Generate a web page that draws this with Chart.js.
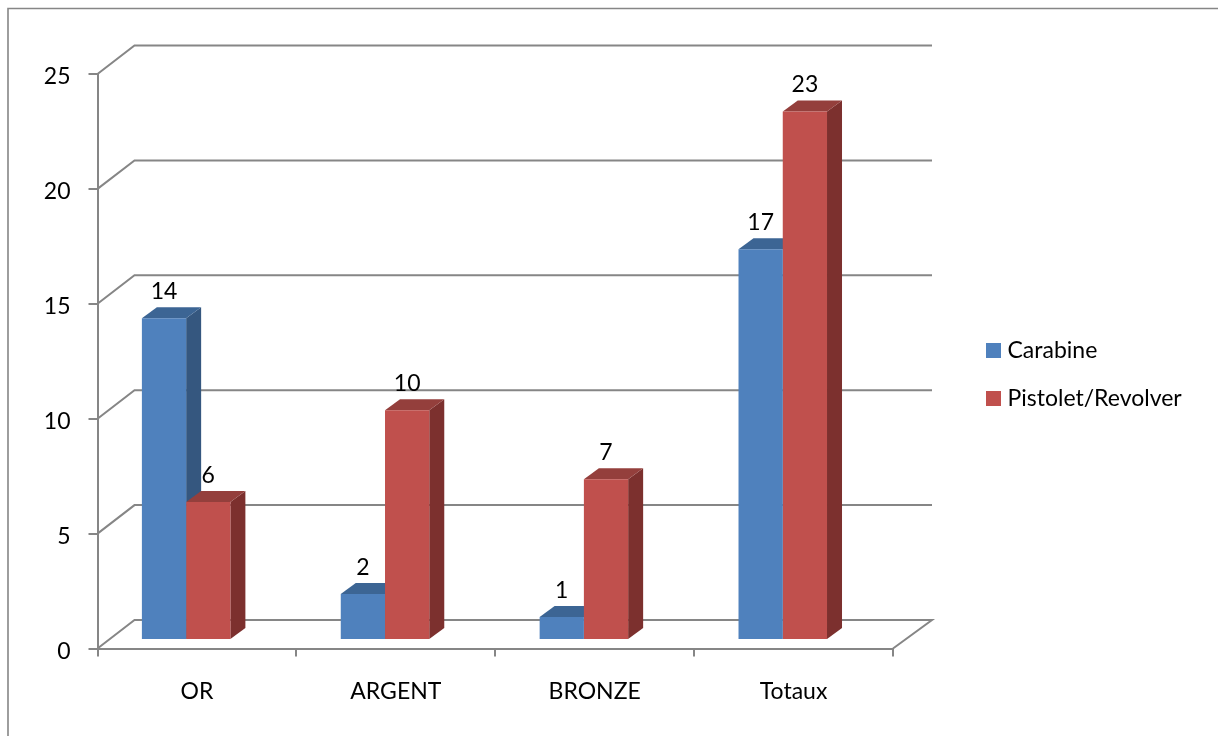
<!DOCTYPE html>
<html><head><meta charset="utf-8">
<style>html,body{margin:0;padding:0;background:#fff;overflow:hidden}#wrap{position:relative;width:1218px;height:736px}</style>
<script src="https://cdn.jsdelivr.net/npm/chart.js@4/dist/chart.umd.js"></script>
</head><body><div id="wrap"><canvas id="c" width="1218" height="736"></canvas></div>
<script>
const categories = ["OR", "ARGENT", "BRONZE", "Totaux"];
const carabine = [14, 2, 1, 17];
const pistolet = [6, 10, 7, 23];
const seriesNames = ["Carabine", "Pistolet/Revolver"];
const seriesColors = ["#4f81bd", "#c0504d"];
const topColors = ["#3c6594", "#943f3c"];
const sideColors = ["#35577f", "#7c302e"];
const axisColor = "#868686";
const FONT = {family: "Lato", size: 23};
const WALL = {dx: 37, dy: -28.5, right: 932};
const BAR = {dx: -10.8, dy: -8.5, depthX: 15, depthY: -11};

function poly(ctx, pts, color) {
  ctx.beginPath();
  pts.forEach((p, i) => i ? ctx.lineTo(p[0], p[1]) : ctx.moveTo(p[0], p[1]));
  ctx.closePath();
  ctx.fillStyle = color;
  ctx.fill();
}
const scene3d = {
  id: "scene3d",
  beforeLayout(chart) {
    const lg = chart.legend;
    if (lg && !lg._wrapped) {
      const fit = lg.fit;
      lg.fit = function () { fit.call(this); this.width = chart.width - 893; };
      lg._wrapped = true;
    }
  },
  afterLayout(chart) {
    const lg = chart.legend;
    const pad = lg.options.labels.padding;
    lg.left = 991 - pad; lg.right = chart.width;
    lg.top = 314; lg.bottom = chart.height;
  },
  beforeDraw(chart) {
    const ctx = chart.ctx;
    ctx.save();
    ctx.strokeStyle = axisColor; ctx.lineWidth = 1.6;
    ctx.beginPath();
    ctx.moveTo(8, chart.height); ctx.lineTo(8, 8.5); ctx.lineTo(chart.width, 8.5);
    ctx.stroke();
    ctx.restore();
  },
  beforeDatasetsDraw(chart) {
    const ctx = chart.ctx, y = chart.scales.y, a = chart.chartArea;
    ctx.save();
    ctx.strokeStyle = axisColor; ctx.lineWidth = 2; ctx.lineJoin = "miter";
    y.ticks.forEach(t => {
      const py = y.getPixelForValue(t.value);
      ctx.beginPath();
      ctx.moveTo(a.left, py);
      ctx.lineTo(a.left + WALL.dx, py + WALL.dy);
      ctx.lineTo(WALL.right, py + WALL.dy);
      if (t.value === 0) ctx.lineTo(a.right, py);
      ctx.stroke();
    });
    ctx.restore();
    ctx.save();
    ctx.translate(BAR.dx, BAR.dy);
    chart.data.datasets.forEach((d, i) => {
      chart.getDatasetMeta(i).data.forEach(el => {
        const l = el.x - el.width / 2, r = el.x + el.width / 2, t = el.y, b = el.base;
        const X = BAR.depthX, Y = BAR.depthY;
        poly(ctx, [[r, t], [r + X, t + Y], [r + X, b + Y], [r, b]], sideColors[i]);
        poly(ctx, [[l, t], [l + X, t + Y], [r + X, t + Y], [r, t]], topColors[i]);
      });
    });
  },
  afterDatasetsDraw(chart) {
    const ctx = chart.ctx;
    ctx.restore();
    ctx.save();
    ctx.fillStyle = "#000";
    ctx.font = FONT.size + "px " + FONT.family;
    ctx.textAlign = "center"; ctx.textBaseline = "middle";
    chart.data.datasets.forEach((d, i) => {
      chart.getDatasetMeta(i).data.forEach((el, j) => {
        ctx.fillText(String(d.data[j]), el.x + BAR.dx, el.y + BAR.dy - 26.5);
      });
    });
    ctx.restore();
  }
};
Chart.register(scene3d);
new Chart(document.getElementById("c"), {
  type: "bar",
  data: {
    labels: categories,
    datasets: [
      {label: seriesNames[0], data: carabine, backgroundColor: seriesColors[0], categoryPercentage: 0.445, barPercentage: 1},
      {label: seriesNames[1], data: pistolet, backgroundColor: seriesColors[1], categoryPercentage: 0.445, barPercentage: 1}
    ]
  },
  options: {
    responsive: false, animation: false, events: [],
    layout: {padding: {left: 0, top: 74, right: 0, bottom: 0}},
    plugins: {
      tooltip: {enabled: false}, title: {display: false},
      legend: {
        position: "right", align: "start",
        labels: {
          font: FONT, color: "#000", padding: 25, boxWidth: 5, boxHeight: 5,
          generateLabels(chart) {
            return Chart.defaults.plugins.legend.labels.generateLabels(chart).map(it => {
              it.strokeStyle = it.fillStyle; it.lineWidth = 10; return it;
            });
          }
        }
      }
    },
    scales: {
      x: {
        offset: true,
        afterFit(s) { s.height = 87.5; },
        grid: {display: true, offset: true, drawOnChartArea: false, drawTicks: true, tickLength: 8, color: axisColor, lineWidth: 2},
        border: {display: true, color: axisColor, width: 2},
        ticks: {font: FONT, color: "#000", padding: 21, maxRotation: 0}
      },
      y: {
        min: 0, max: 25,
        afterFit(s) { s.width = 97.5; },
        grid: {display: true, drawOnChartArea: false, drawTicks: true, tickLength: 9, color: axisColor, lineWidth: 2},
        border: {display: true, color: axisColor, width: 2},
        ticks: {font: FONT, color: "#000", stepSize: 5, padding: 18, labelOffset: 3}
      }
    }
  }
});
</script></body></html>
